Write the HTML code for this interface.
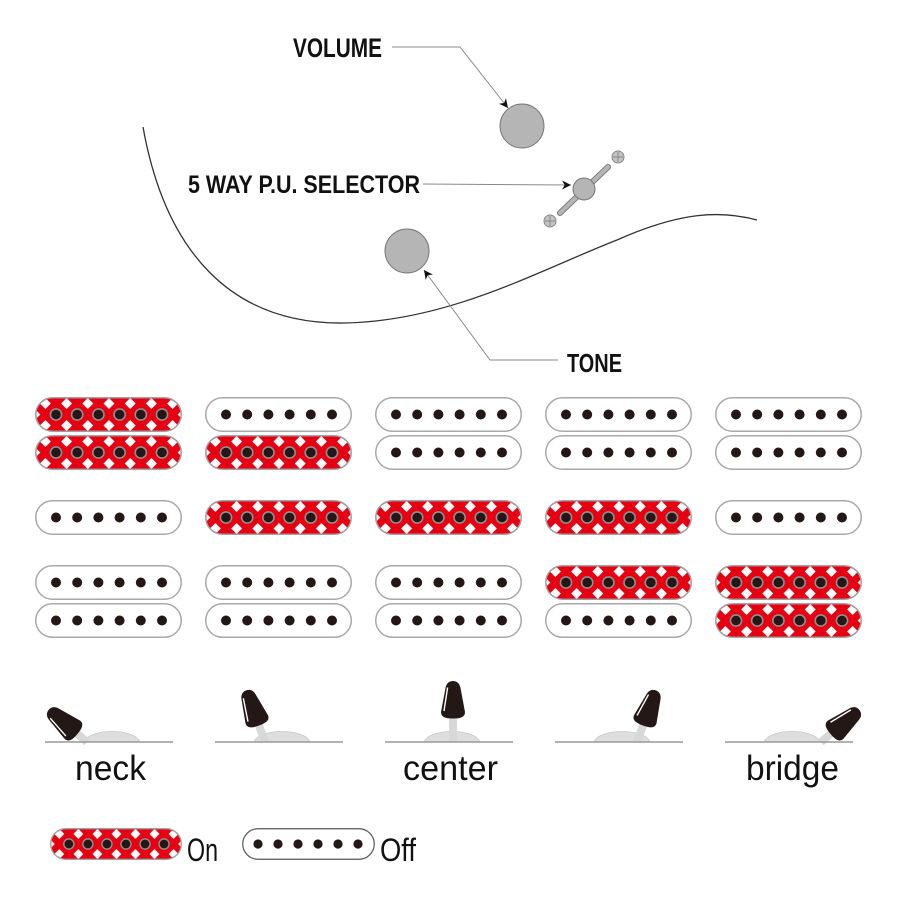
<!DOCTYPE html>
<html>
<head>
<meta charset="utf-8">
<style>
html,body{margin:0;padding:0;background:#fff;}
svg{display:block;}
</style>
</head>
<body>
<svg width="900" height="900" viewBox="0 0 900 900" xmlns="http://www.w3.org/2000/svg">
<defs>
  <pattern id="dia" patternUnits="userSpaceOnUse" x="21" y="17.5" width="21.2" height="22">
    <polygon points="10.6,5.5 16.1,11 10.6,16.5 5.1,11" fill="#fff"/>
    <polygon points="0,-5.5 5.5,0 0,5.5 -5.5,0" fill="#fff"/>
    <polygon points="21.2,-5.5 26.7,0 21.2,5.5 15.7,0" fill="#fff"/>
    <polygon points="0,16.5 5.5,22 0,27.5 -5.5,22" fill="#fff"/>
    <polygon points="21.2,16.5 26.7,22 21.2,27.5 15.7,22" fill="#fff"/>
  </pattern>
  <marker id="arr" viewBox="0 0 10 10" refX="10" refY="5" markerWidth="11" markerHeight="9" markerUnits="userSpaceOnUse" orient="auto">
    <path d="M0,0 L10,5 L0,10 L3,5 Z" fill="#111"/>
  </marker>
  <g id="R">
    <rect x="0.75" y="0.75" width="145.5" height="33.5" rx="16.75" fill="#e60012" stroke="#a0a0a0" stroke-width="1.5"/>
    <rect x="1.5" y="1.5" width="144" height="32" rx="16" fill="url(#dia)"/>
    <g fill="#231815" stroke="#8f8f8f" stroke-width="1.6">
      <circle cx="21" cy="17.5" r="5.6"/>
      <circle cx="42.2" cy="17.5" r="5.6"/>
      <circle cx="63.4" cy="17.5" r="5.6"/>
      <circle cx="84.6" cy="17.5" r="5.6"/>
      <circle cx="105.8" cy="17.5" r="5.6"/>
      <circle cx="127" cy="17.5" r="5.6"/>
    </g>
  </g>
  <g id="W">
    <rect x="0.75" y="0.75" width="145.5" height="33.5" rx="16.75" fill="#fff" stroke="#a8a8a8" stroke-width="1.5"/>
    <g fill="#231815">
      <circle cx="21" cy="17.5" r="5"/>
      <circle cx="42.2" cy="17.5" r="5"/>
      <circle cx="63.4" cy="17.5" r="5"/>
      <circle cx="84.6" cy="17.5" r="5"/>
      <circle cx="105.8" cy="17.5" r="5"/>
      <circle cx="127" cy="17.5" r="5"/>
    </g>
  </g>
  <g id="L">
    <path d="M -12,-5 C -12,0 -8,1.5 0,1.5 C 8,1.5 12,0 12,-5 L 7.5,-29 C 6.5,-34.5 3,-36 0,-36 C -3,-36 -6.5,-34.5 -7.5,-29 Z" fill="#231815"/>
    <path d="M -9,-6 L -5.4,-29.5" stroke="#fff" stroke-width="1.4" fill="none"/>
  </g>
</defs>

<!-- body curve -->
<path d="M143,127 C165,250 230,325 345,323 C450,321 540,270 617,240 C680,212 720,210 757,220" fill="none" stroke="#333" stroke-width="1.3"/>

<!-- knobs -->
<circle cx="522" cy="126" r="22" fill="#b5b5b5" stroke="#777" stroke-width="1"/>
<circle cx="407" cy="251" r="22" fill="#b5b5b5" stroke="#777" stroke-width="1"/>

<!-- selector -->
<line x1="560" y1="213" x2="608" y2="167" stroke="#777" stroke-width="6" stroke-linecap="round"/>
<line x1="560" y1="213" x2="608" y2="167" stroke="#b5b5b5" stroke-width="4" stroke-linecap="round"/>
<circle cx="584" cy="189" r="11" fill="#b5b5b5" stroke="#777" stroke-width="1"/>
<g fill="#c4c4c4" stroke="#888" stroke-width="1">
  <circle cx="618" cy="157" r="6"/>
  <circle cx="550" cy="221" r="6"/>
</g>
<g stroke="#888" stroke-width="1">
  <line x1="613" y1="157" x2="623" y2="157"/><line x1="618" y1="152" x2="618" y2="162"/>
  <line x1="545" y1="221" x2="555" y2="221"/><line x1="550" y1="216" x2="550" y2="226"/>
</g>

<!-- leaders -->
<polyline points="392,47 460,47 508,108" fill="none" stroke="#888" stroke-width="1" marker-end="url(#arr)"/>
<polyline points="423,184 571,185" fill="none" stroke="#888" stroke-width="1" marker-end="url(#arr)"/>
<polyline points="558,360 490,360 424,270" fill="none" stroke="#888" stroke-width="1" marker-end="url(#arr)"/>

<!-- top labels -->
<g font-family="'Liberation Sans', Arial, sans-serif" font-weight="bold" fill="#111">
  <text x="293" y="57" font-size="27" textLength="89" lengthAdjust="spacingAndGlyphs">VOLUME</text>
  <text x="188" y="193" font-size="25" textLength="232" lengthAdjust="spacingAndGlyphs">5 WAY P.U. SELECTOR</text>
  <text x="567" y="372" font-size="26" textLength="55" lengthAdjust="spacingAndGlyphs">TONE</text>
</g>

<!-- pickups: row 1 -->
<use href="#R" x="35" y="397"/>
<use href="#W" x="205" y="397"/>
<use href="#W" x="375" y="397"/>
<use href="#W" x="545" y="397"/>
<use href="#W" x="715" y="397"/>
<!-- row 2 -->
<use href="#R" x="35" y="435"/>
<use href="#R" x="205" y="435"/>
<use href="#W" x="375" y="435"/>
<use href="#W" x="545" y="435"/>
<use href="#W" x="715" y="435"/>
<!-- row 3 single -->
<use href="#W" x="35" y="500"/>
<use href="#R" x="205" y="500"/>
<use href="#R" x="375" y="500"/>
<use href="#R" x="545" y="500"/>
<use href="#W" x="715" y="500"/>
<!-- row 4 -->
<use href="#W" x="35" y="565"/>
<use href="#W" x="205" y="565"/>
<use href="#W" x="375" y="565"/>
<use href="#R" x="545" y="565"/>
<use href="#R" x="715" y="565"/>
<!-- row 5 -->
<use href="#W" x="35" y="603"/>
<use href="#W" x="205" y="603"/>
<use href="#W" x="375" y="603"/>
<use href="#W" x="545" y="603"/>
<use href="#R" x="715" y="603"/>

<!-- switches: humps -->
<g fill="#dedede" stroke="#c8c8c8" stroke-width="0.8">
  <path d="M84,742 C89,728 135,728 140,742 Z"/>
  <path d="M254,742 C259,728 305,728 310,742 Z"/>
  <path d="M424,742 C429,728 475,728 480,742 Z"/>
  <path d="M594,742 C599,728 645,728 650,742 Z"/>
  <path d="M764,742 C769,728 815,728 820,742 Z"/>
</g>
<!-- levers -->
<g transform="translate(87,742) rotate(-50)">
  <line x1="0" y1="0" x2="0" y2="-14" stroke="#d8d8d8" stroke-width="8"/>
  <use href="#L" y="-14"/>
</g>
<g transform="translate(265,742) rotate(-20)">
  <line x1="0" y1="0" x2="0" y2="-19" stroke="#d8d8d8" stroke-width="8"/>
  <use href="#L" y="-19"/>
</g>
<g transform="translate(453,742)">
  <line x1="0" y1="0" x2="0" y2="-25" stroke="#d8d8d8" stroke-width="8"/>
  <use href="#L" y="-25"/>
</g>
<g transform="translate(637,742) rotate(20)">
  <line x1="0" y1="0" x2="0" y2="-19" stroke="#d8d8d8" stroke-width="8"/>
  <use href="#L" y="-19"/>
</g>
<g transform="translate(821,742) rotate(50)">
  <line x1="0" y1="0" x2="0" y2="-14" stroke="#d8d8d8" stroke-width="8"/>
  <use href="#L" y="-14"/>
</g>
<!-- base lines -->
<g stroke="#999" stroke-width="1.5">
  <line x1="45" y1="742" x2="173" y2="742"/>
  <line x1="215" y1="742" x2="343" y2="742"/>
  <line x1="385" y1="742" x2="513" y2="742"/>
  <line x1="555" y1="742" x2="683" y2="742"/>
  <line x1="725" y1="742" x2="853" y2="742"/>
</g>

<!-- switch labels -->
<g font-family="'Liberation Sans', Arial, sans-serif" fill="#111" font-size="35">
  <text x="75" y="780" textLength="71" lengthAdjust="spacingAndGlyphs">neck</text>
  <text x="403" y="780" textLength="95" lengthAdjust="spacingAndGlyphs">center</text>
  <text x="746" y="780" textLength="93" lengthAdjust="spacingAndGlyphs">bridge</text>
</g>

<!-- legend -->
<use href="#R" transform="translate(50,828) scale(0.898,0.914)"/>
<rect x="242.75" y="828.75" width="131.5" height="30.5" rx="15.25" fill="#fff" stroke="#555" stroke-width="1.2"/>
<g fill="#231815">
  <circle cx="258" cy="844" r="4.6"/>
  <circle cx="278" cy="844" r="4.6"/>
  <circle cx="298" cy="844" r="4.6"/>
  <circle cx="318" cy="844" r="4.6"/>
  <circle cx="338" cy="844" r="4.6"/>
  <circle cx="358" cy="844" r="4.6"/>
</g>
<g font-family="'Liberation Sans', Arial, sans-serif" fill="#111" font-size="32">
  <text x="187" y="861" textLength="31" lengthAdjust="spacingAndGlyphs">On</text>
  <text x="380" y="861" textLength="36" lengthAdjust="spacingAndGlyphs">Off</text>
</g>
</svg>
</body>
</html>
